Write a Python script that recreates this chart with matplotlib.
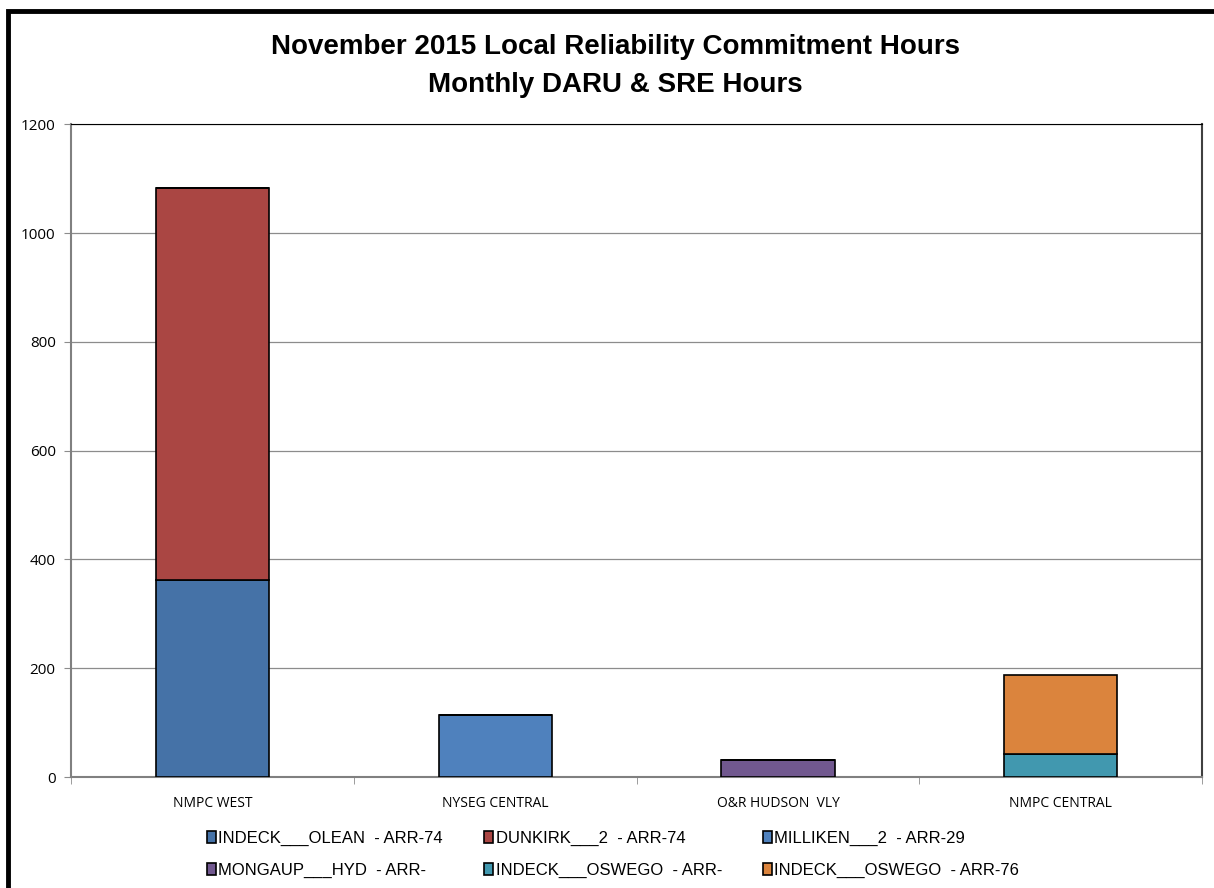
import numpy as np
import matplotlib.pyplot as plt
from matplotlib.patches import Rectangle

# Data
zones = ['NMPC WEST', 'NYSEG CENTRAL', 'O&R HUDSON  VLY', 'NMPC CENTRAL']
units = ['INDECK___OLEAN  - ARR-74', 'DUNKIRK___2  - ARR-74', 'MILLIKEN___2  - ARR-29',
         'MONGAUP___HYD  - ARR-', 'INDECK___OSWEGO  - ARR-', 'INDECK___OSWEGO  - ARR-76']
colors = ['#4572A7', '#AA4643', '#4F81BD', '#71588F', '#4198AF', '#DB843D']
# hours per unit, per zone
hours = [
    [362, 0, 0, 0],
    [721, 0, 0, 0],
    [0, 114, 0, 0],
    [0, 0, 31, 0],
    [0, 0, 0, 42],
    [0, 0, 0, 145],
]

fig = plt.figure(figsize=(12.14, 8.88), dpi=100)
ax = fig.add_axes([0.0585, 0.125, 0.9317, 0.735])

x = np.arange(len(zones))
bottom = np.zeros(len(zones))
handles = []
for name, col, h in zip(units, colors, hours):
    h = np.array(h, dtype=float)
    b = ax.bar(x, h, 0.40, bottom=bottom, color=col, edgecolor='black',
               linewidth=1.2, label=name, zorder=3)
    handles.append(b)
    bottom += h

ax.set_xlim(-0.5, 3.5)
ax.set_ylim(0, 1200)
ax.set_yticks(np.arange(0, 1201, 200))
ax.yaxis.grid(True, color='#8c8c8c', linewidth=0.9, zorder=0)
ax.set_xticks(x)
ax.set_xticklabels(zones, fontsize=10, family='Open Sans')
ax.set_xticks(np.arange(-0.5, 4, 1), minor=True)
ax.tick_params(axis='x', which='major', length=0, pad=14)
ax.tick_params(axis='x', which='minor', length=5, color='#8c8c8c')
ax.tick_params(axis='y', length=5, color='#8c8c8c', labelsize=11, pad=6)
for lab in ax.get_yticklabels():
    lab.set_family('Open Sans')

ax.spines['left'].set_color('#808080')
ax.spines['bottom'].set_color('#808080')
ax.spines['left'].set_linewidth(1.5)
ax.spines['bottom'].set_linewidth(1.5)
ax.spines['top'].set_color('black')
ax.spines['right'].set_color('#404040')
ax.spines['right'].set_linewidth(1.5)

fig.text(0.507, 0.947, 'November 2015 Local Reliability Commitment Hours',
         ha='center', va='center', fontsize=20, fontweight='bold', family='Liberation Sans')
fig.text(0.507, 0.904, 'Monthly DARU & SRE Hours',
         ha='center', va='center', fontsize=20, fontweight='bold', family='Liberation Sans')

# legend in row-major order
order = [0, 3, 1, 4, 2, 5]
leg = fig.legend([handles[i] for i in order], [units[i] for i in order],
                 ncol=3, loc='upper left', bbox_to_anchor=(0.158, 0.081),
                 frameon=False, handlelength=0.55, handleheight=0.75,
                 handletextpad=0.15, columnspacing=2.45, labelspacing=1.0,
                 prop={'family': 'Liberation Sans', 'size': 12})

# outer chart border
fig.patches.append(Rectangle((0.0066, -0.05), 1.1, 1.038, transform=fig.transFigure,
                             fill=False, edgecolor='black', linewidth=3.5))

fig.savefig('out.png', dpi=100)
